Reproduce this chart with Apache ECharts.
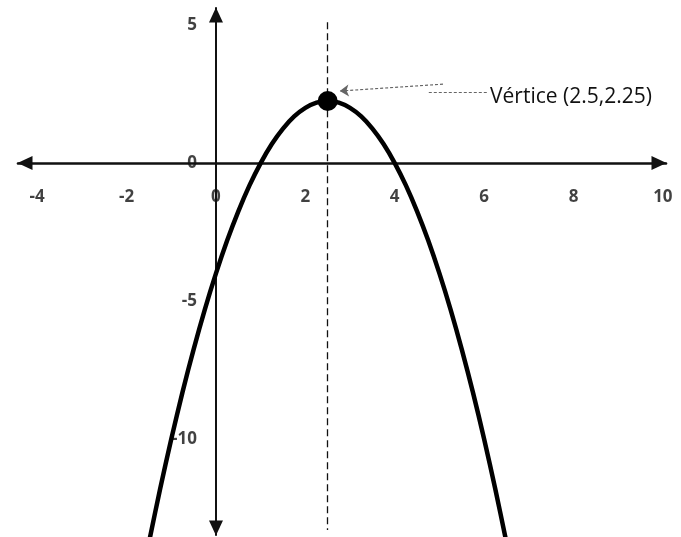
<!DOCTYPE html>
<html>
<head>
<meta charset="utf-8">
<script src="https://cdn.jsdelivr.net/npm/echarts@6/dist/echarts.min.js"></script>
<style>
html,body{margin:0;padding:0;background:#fff;}
#chart{width:681px;height:537px;}
</style>
</head>
<body>
<div id="chart"></div>
<script>
// Curve points
const curveX = [-1.5, -1.25, -1, -0.75, -0.5, -0.25, 0, 0.25, 0.5, 0.75, 1, 1.25, 1.5, 1.75, 2, 2.25, 2.5,
                2.75, 3, 3.25, 3.5, 3.75, 4, 4.25, 4.5, 4.75, 5, 5.25, 5.5, 5.75, 6, 6.25, 6.5];
const curveY = [-13.75, -11.81, -10, -8.31, -6.75, -5.31, -4, -2.81, -1.75, -0.81, 0, 0.69, 1.25, 1.69, 2, 2.19, 2.25,
                2.19, 2, 1.69, 1.25, 0.69, 0, -0.81, -1.75, -2.81, -4, -5.31, -6.75, -8.31, -10, -11.81, -13.75];
const vertex = [2.5, 2.25];
const vertexLabel = 'Vértice (2.5,2.25)';
const xTickLabels = [-4, -2, 0, 2, 4, 6, 8, 10];
const yTickLabels = [5, 0, -5, -10];

const chart = echarts.init(document.getElementById('chart'), null, {renderer: 'canvas'});
const tickFont = {fontFamily: '"Open Sans", sans-serif', fontWeight: 'bold', fontSize: 17, color: '#111'};

const option = {
  animation: false,
  backgroundColor: '#fff',
  grid: {left: 18, right: 15, top: 8, bottom: 2, containLabel: false, outerBoundsMode: 'none'},
  xAxis: {
    type: 'value', min: -4.43, max: 10.07,
    splitLine: {show: false},
    axisTick: {show: false},
    axisLabel: {show: false},
    axisLine: {onZero: true, lineStyle: {color: '#111', width: 2.6},
      symbol: ['triangle', 'triangle'], symbolSize: [14, 15], symbolOffset: [7, -7]}
  },
  yAxis: {
    type: 'value', min: -13.48, max: 5.62,
    splitLine: {show: false},
    axisTick: {show: false},
    axisLabel: {show: false},
    axisLine: {onZero: true, lineStyle: {color: '#111', width: 2},
      symbol: ['triangle', 'triangle'], symbolSize: [14, 15], symbolOffset: [7, -7]}
  },
  series: [
    {
      type: 'line',
      data: curveX.map((x, i) => [x, curveY[i]]),
      smooth: 0.3,
      symbol: 'none',
      clip: false,
      lineStyle: {color: '#000', width: 4.5},
      z: 3,
      markLine: {
        silent: true,
        symbol: 'none',
        animation: false,
        label: {show: false},
        lineStyle: {color: '#111', width: 1.3, type: [7, 4]},
        data: [[{coord: [vertex[0], 5.1]}, {coord: [vertex[0], -13.3]}]]
      }
    },
    {
      type: 'scatter',
      data: [vertex],
      symbol: 'circle',
      symbolSize: 20,
      itemStyle: {color: '#000', opacity: 1},
      z: 5,
      markLine: {
        silent: true,
        animation: false,
        label: {show: false},
        symbolSize: 9,
        lineStyle: {color: '#666', width: 1.2, type: [3, 2]},
        data: [
          [{coord: [6.06, 2.57], symbol: 'none'}, {coord: [4.74, 2.57], symbol: 'none'}],
          [{coord: [5.08, 2.86], symbol: 'none'}, {coord: [2.77, 2.61], symbol: 'arrow'}]
        ]
      }
    },
    {
      // x tick labels, placed on the x axis through the scales
      type: 'scatter',
      data: xTickLabels.map(v => [v, 0]),
      symbolSize: 0,
      silent: true,
      z: 2,
      label: Object.assign({show: true, position: 'inside', offset: [0, 34],
        formatter: p => String(p.value[0])}, tickFont)
    },
    {
      // y tick labels, placed on the y axis through the scales
      type: 'scatter',
      data: yTickLabels.map(v => [0, v]),
      symbolSize: 0,
      silent: true,
      z: 2,
      label: Object.assign({show: true, position: 'inside', align: 'right', offset: [-19, 0],
        formatter: p => String(p.value[1])}, tickFont)
    }
  ],
  graphic: [
    {type: 'text', left: 490, top: 87,
     style: {text: vertexLabel, font: '21px "Open Sans", sans-serif', fill: '#111'}}
  ]
};
chart.setOption(option);
</script>
</body>
</html>
